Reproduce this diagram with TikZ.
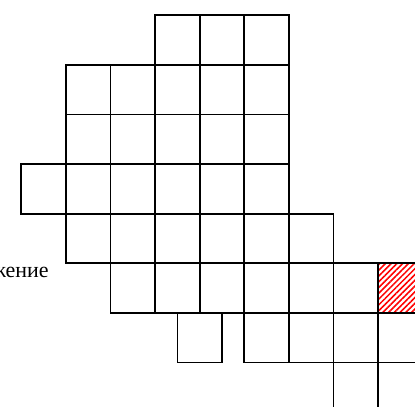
\documentclass[tikz,border=0pt]{standalone}
\usepackage{fontspec}
\setmainfont{Liberation Serif}
\usetikzlibrary{patterns.meta}

\begin{document}
\begin{tikzpicture}[
	cell/.style={draw, line width=1.1pt, minimum width=1cm,
		minimum height=1.112cm, inner sep=0pt},
	marked/.style={cell, pattern={Lines[angle=45, distance=2.6pt, line width=1pt]},
		pattern color=red},
	caption/.style={font=\fontsize{14}{16}\selectfont, anchor=base east, inner sep=0pt},
]
\useasboundingbox (-0.478,0.343) rectangle (8.827,-8.782);
\clip (-0.478,0.343) rectangle (8.827,-8.782);
% rows of cells, row/columns
\foreach \r/\cols in {0/{3,4,5}, 1/{1,2,3,4,5}, 2/{1,2,3,4,5}, 3/{0,1,2,3,4,5},
		4/{1,2,3,4,5,6}, 5/{2,3,4,5,6,7}, 6/{5,6,7,8}, 7/{7,8}}
	\foreach \c in \cols
		\node[cell] (cell-\r-\c) at ({\c+0.5},{-(\r+0.5)*1.112}) {};
\node[cell] (loose) at (4,{-6.5*1.112}) {};
\node[marked] (goal) at (8.5,{-5.5*1.112}) {};
\node[caption] (label) at (0.62,-5.88) {Положение};
\end{tikzpicture}
\end{document}
